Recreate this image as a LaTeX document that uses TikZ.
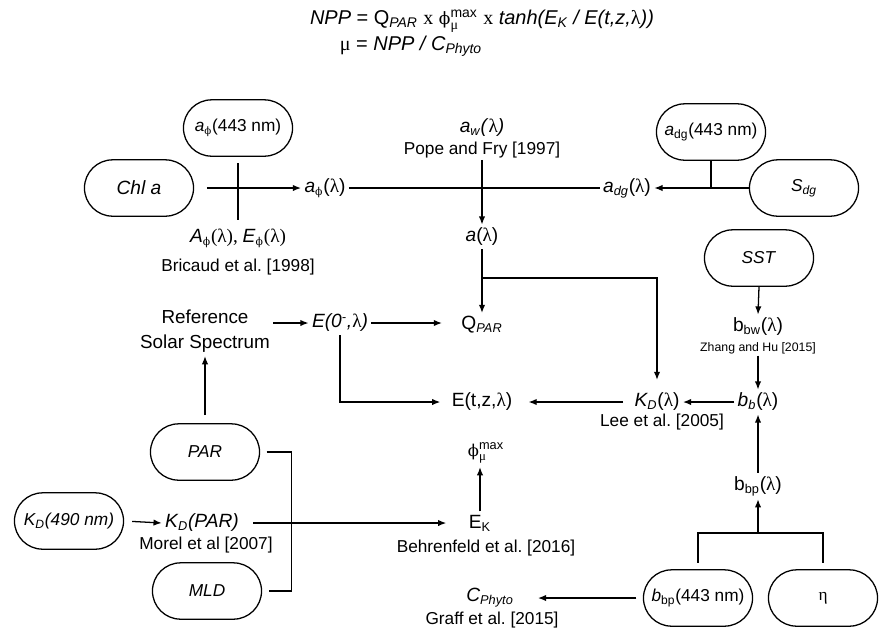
\documentclass[tikz,border=0pt]{standalone}
\usepackage{amsmath}
\usepackage{fontspec}
\setmainfont{Liberation Sans}
\newfontfamily\grk{Liberation Serif}
\newfontfamily\phfont[Scale=0.85]{DejaVu Serif}
\usetikzlibrary{arrows.meta,shapes.misc}
\frenchspacing
\newcommand{\lam}{{\grk λ}}
\newcommand{\phii}{{\phfont ϕ}}
\newcommand{\sbs}[1]{\textsubscript{#1}}
\newcommand{\sps}[1]{\textsuperscript{#1}}
\newcommand{\phimax}{\phii\ensuremath{^{\text{max}}_{\text{\grk μ}}}}

\begin{document}
\begin{tikzpicture}[x=0.022cm,y=-0.022cm,
  every node/.style={font=\fontsize{10.8pt}{15pt}\selectfont},
  pill/.style={draw,line width=0.8pt,rounded rectangle,minimum width=2.47cm,minimum height=1.24cm,inner sep=1pt},
  lbl/.style={inner sep=2pt,font=\fontsize{12pt}{15pt}\selectfont},
  cite/.style={inner sep=1pt},
  eqn/.style={font=\fontsize{12.5pt}{15pt}\selectfont},
  conn/.style={line width=0.8pt},
  arr/.style={-{Latex[length=1.8mm,width=1.4mm]},line width=0.8pt}]
\useasboundingbox (0,0) rectangle (879,640);
% formulas
\node[eqn] (npp) at (482,21) {\textit{NPP} = Q\sbs{\textit{PAR}} {\grk x} \phimax\ {\grk x} \textit{tanh(E\sbs{K} / E(t,z,}\lam\textit{))}};
\node[eqn] (mu) at (411,46) {{\grk μ} = \textit{NPP / C\sbs{Phyto}}};
% absorption
\node[pill] (aph443) at (238,128) {\textit{a}\sbs{\phii}(443 nm)};
\node[pill,font=\fontsize{12pt}{15pt}\selectfont] (chl) at (139,188) {\textit{Chl a}};
\node[lbl] (aphl) at (325,188) {\textit{a}\sbs{\phii}(\lam)};
\node[lbl] (aphpar) at (238,238) {\textit{A}\sbs{\phii}{\grk(λ), }\textit{E}\sbs{\phii}{\grk(λ)}};
\node[cite] (bricaud) at (238,267) {Bricaud et al. [1998]};
\node[lbl] (aw) at (482,128) {\textit{a\sbs{w}(}\lam\textit{)}};
\node[cite] (pope) at (482,150) {Pope and Fry [1997]};
\node[lbl] (al) at (482,237) {\textit{a}(\lam)};
\node[lbl] (adgl) at (627,188) {\textit{a\sbs{dg}}(\lam)};
\node[pill] (adg443) at (711,132) {\textit{a}\sbs{dg}(443 nm)};
\node[pill] (sdg) at (804,188) {\textit{S\sbs{dg}}};
% backscattering
\node[pill] (sst) at (759,258) {\textit{SST}};
\node[lbl] (bbw) at (758,327) {b\sbs{bw}(\lam)};
\node[cite,font=\fontsize{7.7pt}{9pt}\selectfont] (zhang) at (758,348) {Zhang and Hu [2015]};
\node[lbl] (bbl) at (758,402) {\textit{b\sbs{b}}(\lam)};
\node[lbl] (kdl) at (657,402) {\textit{K\sbs{D}}(\lam)};
\node[cite] (lee) at (662,422) {Lee et al. [2005]};
\node[lbl] (bbpl) at (758,486) {b\sbs{bp}(\lam)};
\node[pill] (bbp443) at (698,598) {\textit{b}\sbs{bp}(443 nm)};
\node[pill] (eta) at (823,598) {{\grk η}};
\node[lbl] (cphy) at (490,598) {\textit{C\sbs{Phyto}}};
\node[cite] (graff) at (492,620) {Graff et al. [2015]};
% light
\node[lbl,align=center,font=\fontsize{11.8pt}{14pt}\selectfont] (rss) at (205,331) {Reference\\[2pt]Solar Spectrum};
\node[lbl] (e0) at (340,323) {\textit{E(0\sps{-},}\lam\textit{)}};
\node[lbl] (qpar) at (482,325) {Q\sbs{\textit{PAR}}};
\node[lbl] (etz) at (482,402) {E(t,z,\lam)};
\node[pill] (par) at (205,452) {\textit{PAR}};
\node[pill] (kd490) at (69,521) {\textit{K\sbs{D}(490 nm)}};
\node[lbl] (kdpar) at (202,523) {\textit{K\sbs{D}(PAR)}};
\node[cite] (morel) at (206,545) {Morel et al [2007]};
\node[pill] (mld) at (207,591) {\textit{MLD}};
\node[lbl] (ek) at (480,523) {E\sbs{K}};
\node[cite] (behr) at (486,548) {Behrenfeld et al. [2016]};
\node[lbl] (phim) at (486,453) {\phimax};
% absorption links
\draw[conn,shorten <=4pt,shorten >=3pt] (aph443.south) -- (aphpar.north);
\draw[arr,shorten <=8pt] (chl.east) -- (aphl.west);
\draw[conn] (aphl.east) -- (adgl.west);
\draw[arr] (pope.south) -- (al.north);
\draw[arr] (sdg.west) -- (adgl.east);
\draw[conn] (adg443.south) -- (adg443.south |- sdg.west);
\draw[arr] (al.south) -- (qpar.north);
\coordinate (abr) at (al.south |- 0,278);
\draw[arr,shorten >=6pt] (abr) -| (kdl.north);
% backscattering links
\draw[arr] (sst.south) -- (bbw.north);
\draw[arr] (zhang.south) -- (bbl.north);
\draw[arr] (bbl.west) -- (kdl.east);
\draw[arr,shorten <=5pt,shorten >=8pt] (kdl.west) -- (etz.east);
\draw[arr] (bbpl.north) -- (bbl.south);
\coordinate (bbr) at (bbpl.south |- 0,533);
\draw[conn,shorten <=4pt,shorten >=4pt] (bbp443.north) |- (bbr) -| (eta.north);
\draw[arr] (bbr) -- (bbpl.south);
\draw[arr,shorten <=4pt,shorten >=13pt] (bbp443.west) -- (cphy.east);
% light links
\draw[arr] (ek.north) -- (ek.north |- phim.south);
\draw[arr,shorten <=7pt,shorten >=12pt] (kdpar.east) -- (ek.west);
\draw[arr,shorten <=5pt] (kd490.east) -- (kdpar.west);
\draw[arr,shorten <=5pt] (par.north) -- (rss.south);
\draw[conn,shorten <=4pt,shorten >=4pt] (par.east) -- ++(31,0) |- (mld.east);
\draw[arr] (rss.east |- e0) -- (e0.west);
\draw[arr,shorten >=10pt] (e0.east) -- (e0.east -| qpar.west);
\draw[arr,shorten >=5pt] (e0.south) |- (etz.west);
\end{tikzpicture}
\end{document}
